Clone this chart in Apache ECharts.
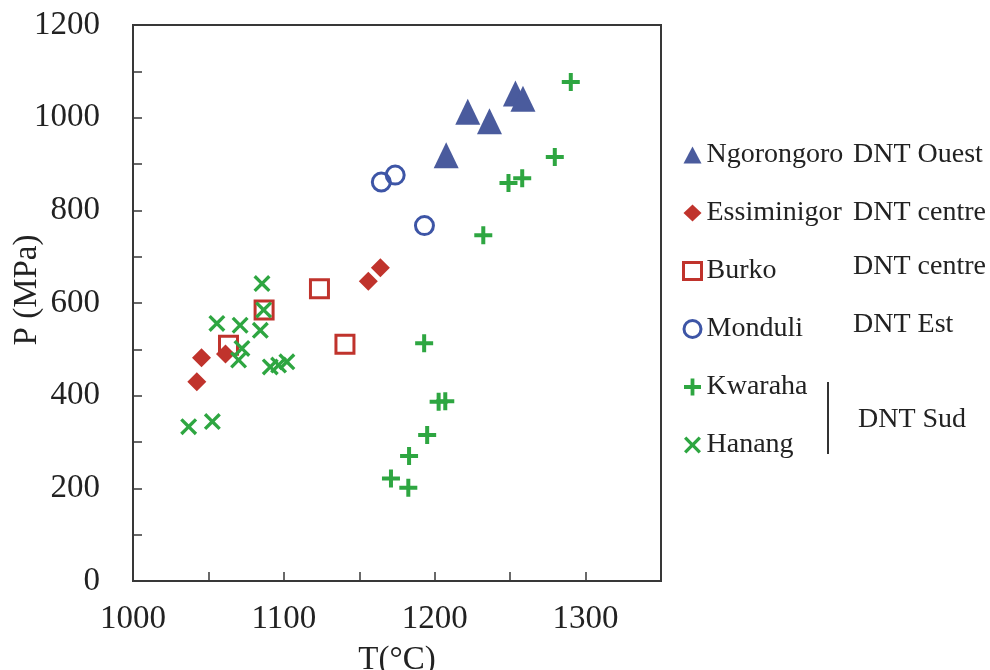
<!DOCTYPE html>
<html>
<head>
<meta charset="utf-8">
<script src="https://cdn.jsdelivr.net/npm/echarts@6/dist/echarts.min.js"></script>
<style>
html,body{margin:0;padding:0;background:#fff;}
#chart{width:990px;height:670px;}
</style>
</head>
<body>
<div id="chart"></div>
<script>
// ---- Data (T in °C, P in MPa) ----
const seriesNames = ['Ngorongoro', 'Essiminigor', 'Burko', 'Monduli', 'Kwaraha', 'Hanang'];
const regionLabels = ['DNT Ouest', 'DNT centre', 'DNT centre', 'DNT Est', 'DNT Sud'];

const ngorongoro = [[1207.6, 919], [1221.9, 1013], [1236.3, 992], [1253.5, 1052], [1258.5, 1041]];
const essiminigor = [[1156, 647], [1164, 676], [1045.4, 482], [1042.3, 430], [1061.3, 490]];
const burko = [[1123.6, 631], [1086.9, 585], [1063.3, 509], [1140.5, 511]];
const monduli = [[1164.6, 861], [1173.8, 876], [1193.2, 767]];
const kwaraha = [[1290.2, 1077], [1279.6, 915], [1248.9, 859], [1258, 869], [1232.2, 746],
                 [1193, 513], [1202.6, 387], [1207, 388], [1195, 315], [1183, 270], [1171, 221], [1182.5, 201]];
const hanang = [[1085.5, 642], [1086.6, 585], [1055.6, 556], [1071, 552], [1084.4, 541], [1072.2, 502],
                [1070, 477], [1091, 462], [1096.5, 466], [1102, 473], [1036.9, 333], [1052.6, 344]];

const xTickLabels = [1000, 1100, 1200, 1300];
const yTickLabels = [0, 200, 400, 600, 800, 1000, 1200];

// ---- Styles ----
const FONT = '"Liberation Serif", "Times New Roman", serif';
const BLUE_TRI = '#4a5b9d';
const BLUE_CIR = '#3d55a6';
const RED = '#c0332c';
const GREEN = '#2ea641';
const AXIS = '#383838';

const plusPath = 'path://M7,0H11V7H18V11H11V18H7V11H0V7H7Z';
const crossPath = 'path://M2.5,0L9,6.5L15.5,0L18,2.5L11.5,9L18,15.5L15.5,18L9,11.5L2.5,18L0,15.5L6.5,9L0,2.5Z';

const chart = echarts.init(document.getElementById('chart'), null, {renderer: 'canvas'});

const option = {
  backgroundColor: '#fff',
  animation: false,
  grid: {
    left: 133, right: 329, top: 25, bottom: 89,
    containLabel: false, outerBoundsMode: 'none',
    show: true, borderColor: AXIS, borderWidth: 2, backgroundColor: 'transparent'
  },
  xAxis: {
    type: 'value', min: 1000, max: 1350, interval: 50,
    name: 'T(°C)', nameLocation: 'middle', nameGap: 63, nameMoveOverlap: false,
    nameTextStyle: {fontFamily: FONT, fontSize: 33, color: '#222'},
    axisLine: {show: true, onZero: false, lineStyle: {color: AXIS, width: 2}},
    axisTick: {show: true, inside: true, length: 9, lineStyle: {color: AXIS, width: 1.5}},
    splitLine: {show: false},
    axisLabel: {
      margin: 22, fontFamily: FONT, fontSize: 33, color: '#222',
      formatter: v => (xTickLabels.indexOf(v) >= 0 ? String(v) : '')
    }
  },
  yAxis: {
    type: 'value', min: 0, max: 1200, interval: 100,
    name: 'P (MPa)', nameLocation: 'middle', nameGap: 89, nameRotate: 90, nameMoveOverlap: false,
    nameTextStyle: {fontFamily: FONT, fontSize: 33, color: '#222', padding: [0, 0, 0, 26]},
    axisLine: {show: true, onZero: false, lineStyle: {color: AXIS, width: 2}},
    axisTick: {show: true, inside: true, length: 9, lineStyle: {color: AXIS, width: 1.5}},
    splitLine: {show: false},
    axisLabel: {
      margin: 33, fontFamily: FONT, fontSize: 33, color: '#222',
      formatter: v => (yTickLabels.indexOf(v) >= 0 ? String(v) : '')
    }
  },
  legend: {
    orient: 'vertical', left: 682, top: 141, padding: 0,
    itemWidth: 18, itemHeight: 17, itemGap: 30,
    textStyle: {fontFamily: FONT, fontSize: 28, color: '#222'},
    data: [
      {name: seriesNames[0]},
      {name: seriesNames[1]},
      {name: seriesNames[2], itemStyle: {borderWidth: 3}},
      {name: seriesNames[3], itemStyle: {borderWidth: 3}},
      {name: seriesNames[4]},
      {name: seriesNames[5]}
    ]
  },
  series: [
    {name: seriesNames[0], type: 'scatter', data: ngorongoro, symbol: 'triangle', symbolSize: [25, 26],
     itemStyle: {color: BLUE_TRI, opacity: 1}, z: 2},
    {name: seriesNames[1], type: 'scatter', data: essiminigor, symbol: 'diamond', symbolSize: 19,
     itemStyle: {color: RED, opacity: 1}, z: 4},
    {name: seriesNames[2], type: 'scatter', data: burko, symbol: 'rect', symbolSize: 18,
     itemStyle: {color: 'rgba(255,255,255,0)', borderColor: RED, borderWidth: 3, opacity: 1}, z: 3},
    {name: seriesNames[3], type: 'scatter', data: monduli, symbol: 'circle', symbolSize: 18,
     itemStyle: {color: 'rgba(255,255,255,0)', borderColor: BLUE_CIR, borderWidth: 3, opacity: 1}, z: 3},
    {name: seriesNames[4], type: 'scatter', data: kwaraha, symbol: plusPath, symbolSize: 18,
     itemStyle: {color: GREEN, opacity: 1}, z: 5},
    {name: seriesNames[5], type: 'scatter', data: hanang, symbol: crossPath, symbolSize: 17,
     itemStyle: {color: GREEN, opacity: 1}, z: 5}
  ],
  graphic: [
    {type: 'text', left: 853, top: 155 - 14, style: {text: regionLabels[0], font: '28px ' + FONT, fill: '#222'}},
    {type: 'text', left: 853, top: 213 - 14, style: {text: regionLabels[1], font: '28px ' + FONT, fill: '#222'}},
    {type: 'text', left: 853, top: 267 - 14, style: {text: regionLabels[2], font: '28px ' + FONT, fill: '#222'}},
    {type: 'text', left: 853, top: 325 - 14, style: {text: regionLabels[3], font: '28px ' + FONT, fill: '#222'}},
    {type: 'text', left: 858, top: 420 - 14, style: {text: regionLabels[4], font: '28px ' + FONT, fill: '#222'}},
    {type: 'line', shape: {x1: 828, y1: 382, x2: 828, y2: 454}, style: {stroke: '#333', lineWidth: 2}}
  ]
};
chart.setOption(option);
</script>
</body>
</html>
